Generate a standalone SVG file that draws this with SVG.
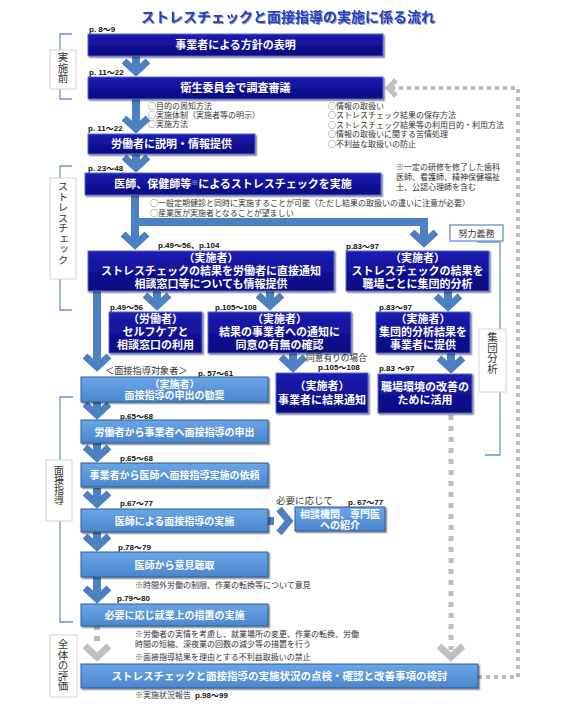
<svg xmlns="http://www.w3.org/2000/svg" width="567" height="712" viewBox="0 0 567 712">
<style>
.dk{fill:url(#gDk);stroke:#5566d8;stroke-width:1;filter:url(#sh)}
.lt{fill:url(#gLt);stroke:#2c5a96;stroke-width:1;filter:url(#sh)}
.bt{font-family:"Noto Sans CJK JP",sans-serif;font-weight:bold;fill:#fff;text-anchor:middle;font-size:11px}
.ls{font-size:10px}
.pg{font-family:"Liberation Sans","Noto Sans CJK JP",sans-serif;font-weight:bold;font-size:8px;fill:#111}
.nt{font-family:"Noto Sans CJK JP",sans-serif;font-size:8px;fill:#333}
.lb{font-family:"Noto Sans CJK JP",sans-serif;fill:#333}
.vt{font-family:"Noto Sans CJK JP",sans-serif;font-size:10.5px;fill:#333;writing-mode:vertical-rl;text-orientation:upright}
.lbox{fill:#fff;stroke:#d4d4d4;stroke-width:1}
.brk{fill:none;stroke:#6f94c8;stroke-width:1.3}
.ar{fill:none;stroke:#4d80c0;stroke-width:8}
.ch{fill:none;stroke:#4d80c0;stroke-width:7}
.gd{fill:none;stroke:#bdbdbd;stroke-width:5;stroke-dasharray:5 6}
.gl{fill:none;stroke:#bdbdbd;stroke-width:4;stroke-dasharray:4 4}
.gc{fill:none;stroke:#c0c0c0;stroke-width:7}
</style>
<defs>
<linearGradient id="gDk" x1="0" y1="0" x2="0" y2="1">
<stop offset="0" stop-color="#1d1db2"/><stop offset="1" stop-color="#07077e"/>
</linearGradient>
<linearGradient id="gLt" x1="0" y1="0" x2="0" y2="1">
<stop offset="0" stop-color="#6aa6e6"/><stop offset="1" stop-color="#4b86cd"/>
</linearGradient>
<filter id="sh" x="-5%" y="-20%" width="110%" height="150%">
<feDropShadow dx="1.5" dy="1.5" stdDeviation="0.7" flood-color="#000" flood-opacity="0.45"/>
</filter>
<filter id="tsh" x="-5%" y="-30%" width="110%" height="160%">
<feDropShadow dx="1" dy="1" stdDeviation="0.6" flood-color="#555" flood-opacity="0.6"/>
</filter>
</defs>
<rect width="567" height="712" fill="#fff"/>

<text x="288" y="22" text-anchor="middle" font-family="Noto Sans CJK JP, sans-serif" font-weight="bold" font-size="14" fill="#1f3fcc" filter="url(#tsh)">ストレスチェックと面接指導の実施に係る流れ</text>

<!-- section labels / brackets -->
<g id="sec-pre">
<path class="brk" d="M72,34 H60 V99 H72"/>
<rect class="lbox" x="50" y="50" width="26" height="39"/>
<text class="vt" x="63" y="52">実施前</text>
</g>
<g id="sec-sc">
<path class="brk" d="M72,166 H60 V310 H72"/>
<rect class="lbox" x="50" y="178" width="26" height="101"/>
<text class="vt" x="63" y="181">ストレスチェック</text>
</g>
<g id="sec-mensetsu">
<path class="brk" d="M73,397 H60 V622 H73"/>
<rect class="lbox" x="46" y="460" width="26" height="61"/>
<text class="vt" x="59" y="465" style="font-size:10px">面接指導</text>
</g>
<g id="sec-eval">
<rect class="lbox" x="50" y="635" width="27" height="62"/>
<text class="vt" x="63" y="639">全体の評価</text>
</g>
<g id="sec-shudan">
<path class="brk" d="M477,242 H500 V455 H485"/>
<rect x="450" y="225" width="53" height="16" fill="#fff" stroke="#7aa0d0" stroke-width="1.5"/>
<text class="lb" x="476.5" y="236.5" text-anchor="middle" font-size="9">努力義務</text>
<rect class="lbox" x="479" y="329" width="27" height="63"/>
<text class="vt" x="492.5" y="332">集団分析</text>
</g>

<!-- connectors -->
<g id="connectors">
<path class="gl" d="M478,677 H518 V88 H392"/>
<path fill="none" stroke="#c0c0c0" stroke-width="5" d="M396,80 L388,88 L396,96"/>
<path class="gd" d="M451,415 V650"/>
<path class="gc" d="M439,646 L451,657 L463,646"/>
<path class="gd" d="M97,625 V642" style="stroke-width:6"/>
<path class="gc" d="M85,646 L97,657 L109,646"/>

<path class="ar" d="M136,56 V71"/><path class="ch" d="M124,61 L136,72 L148,61"/>
<path class="ar" d="M136,99 V128"/><path class="ch" d="M124,118 L136,129 L148,118"/>
<path class="ar" d="M136,154 V167"/><path class="ch" d="M124,157 L136,168 L148,157"/>
<path class="ar" d="M135,195 V244"/><path class="ch" d="M123,234 L135,245 L147,234"/>
<path class="ar" d="M135,222 H424 V242" style="stroke-linejoin:miter"/><path class="ch" d="M412,232 L424,243 L436,232"/>
<path class="ar" d="M157,291 V305"/><path class="ch" d="M145,295 L157,306 L169,295"/>
<path class="ar" d="M270,291 V305"/><path class="ch" d="M258,295 L270,306 L282,295"/>
<path class="ar" d="M448,291 V306"/><path class="ch" d="M436,296 L448,307 L460,296"/>
<path class="ar" d="M97,291 V366"/><path class="ch" d="M85,356 L97,367 L109,356"/>
<path class="ar" d="M293,353 V367"/><path class="ch" d="M281,357 L293,368 L305,357"/>
<path class="ar" d="M451,353 V368"/><path class="ch" d="M439,358 L451,369 L463,358"/>
<path class="ar" d="M97,402 V414"/><path class="ch" d="M85,404 L97,415 L109,404"/>
<path class="ar" d="M97,443 V457"/><path class="ch" d="M85,447 L97,458 L109,447"/>
<path class="ar" d="M97,488 V503"/><path class="ch" d="M85,493 L97,504 L109,493"/>
<path class="ar" d="M97,532 V546"/><path class="ch" d="M85,536 L97,547 L109,536"/>
<path class="ar" d="M97,577 V598"/><path class="ch" d="M85,588 L97,599 L109,588"/>
<path class="ar" d="M268,521 H274"/><path class="ch" d="M279,509 L289,521 L279,533"/>
</g>

<!-- nodes -->
<g id="n1">
<text class="pg" x="89" y="32">p. 8～9</text>
<rect class="dk" x="88" y="34" width="295" height="22"/>
<text class="bt" x="235.5" y="49">事業者による方針の表明</text>
</g>
<g id="n2">
<text class="pg" x="89" y="75">p. 11～22</text>
<rect class="dk" x="88" y="77" width="295" height="22"/>
<text class="bt" x="235.5" y="92">衛生委員会で調査審議</text>
<text class="nt" x="148" y="109">○目的の周知方法</text>
<text class="nt" x="148" y="118">○実施体制（実施者等の明示）</text>
<text class="nt" x="148" y="127">○実施方法</text>
<text class="nt" x="328" y="109">○情報の取扱い</text>
<text class="nt" x="328" y="118">○ストレスチェック結果の保存方法</text>
<text class="nt" x="328" y="127.5">○ストレスチェック結果等の利用目的・利用方法</text>
<text class="nt" x="328" y="137">○情報の取扱いに関する苦情処理</text>
<text class="nt" x="328" y="146.5">○不利益な取扱いの防止</text>
</g>
<g id="n3">
<text class="pg" x="88" y="131">p. 11～22</text>
<rect class="dk" x="88" y="134" width="167" height="20"/>
<text class="bt" x="171.5" y="148">労働者に説明・情報提供</text>
</g>
<g id="n4">
<text class="pg" x="88" y="171">p. 23～48</text>
<rect class="dk" x="85" y="173" width="296" height="22"/>
<text class="bt" x="233" y="188">医師、保健師等<tspan font-size="7" dy="-3" fill="#c8c8e8">※</tspan><tspan dy="3">によるストレスチェックを実施</tspan></text>
<text class="nt" x="396" y="170">※一定の研修を修了した歯科</text>
<text class="nt" x="396" y="180">医師、看護師、精神保健福祉</text>
<text class="nt" x="396" y="190">士、公認心理師を含む</text>
<text class="nt" x="150" y="206">○一般定期健診と同時に実施することが可能（ただし結果の取扱いの違いに注意が必要）</text>
<text class="nt" x="150" y="216">○産業医が実施者となることが望ましい</text>
</g>
<g id="n5">
<text class="pg" x="158" y="248">p.49～56、p.104</text>
<rect class="dk" x="88" y="251" width="246" height="40"/>
<text class="bt" x="211" y="262">（実施者）</text>
<text class="bt" x="211" y="275">ストレスチェックの結果を労働者に直接通知</text>
<text class="bt" x="211" y="288">相談窓口等についても情報提供</text>
</g>
<g id="n6">
<text class="pg" x="346" y="249">p.83～97</text>
<rect class="dk" x="346" y="251" width="143" height="40"/>
<text class="bt" x="417.5" y="262">（実施者）</text>
<text class="bt" x="417.5" y="275">ストレスチェックの結果を</text>
<text class="bt" x="417.5" y="288">職場ごとに集団的分析</text>
</g>
<g id="n7">
<text class="pg" x="110" y="310">p.49～56</text>
<rect class="dk" x="109" y="312" width="93" height="41"/>
<text class="bt" x="155.5" y="323">（労働者）</text>
<text class="bt" x="155.5" y="336">セルフケアと</text>
<text class="bt" x="155.5" y="349">相談窓口の利用</text>
</g>
<g id="n8">
<text class="pg" x="215" y="310">p.105～108</text>
<rect class="dk" x="208" y="312" width="143" height="41"/>
<text class="bt" x="279.5" y="323">（実施者）</text>
<text class="bt" x="279.5" y="336">結果の事業者への通知に</text>
<text class="bt" x="279.5" y="349">同意の有無の確認</text>
<text class="lb" x="306" y="361" font-size="8.7">同意有りの場合</text>
<text class="pg" x="318" y="370">p.105～108</text>
</g>
<g id="n9">
<text class="pg" x="379" y="310">p.83～97</text>
<rect class="dk" x="376" y="312" width="94" height="41"/>
<text class="bt" x="423" y="323">（実施者）</text>
<text class="bt" x="423" y="336">集団的分析結果を</text>
<text class="bt" x="423" y="349">事業者に提供</text>
</g>
<g id="n10">
<rect class="dk" x="276" y="373" width="92" height="40"/>
<text class="bt" x="322" y="390">（実施者）</text>
<text class="bt" x="322" y="404">事業者に結果通知</text>
</g>
<g id="n11">
<text class="pg" x="379" y="371">p.83 ～97</text>
<rect class="dk" x="378" y="374" width="94" height="39"/>
<text class="bt" x="425" y="391">職場環境の改善の</text>
<text class="bt" x="425" y="404">ために活用</text>
</g>
<g id="m1">
<text class="lb" x="105" y="374" font-size="9.2">＜面接指導対象者＞</text>
<text class="pg" x="198" y="376">p. 57～61</text>
<rect class="lt" x="81" y="377" width="187" height="25"/>
<text class="bt ls" x="174.5" y="387.5">（実施者）</text>
<text class="bt ls" x="174.5" y="399">面接指導の申出の勧奨</text>
</g>
<g id="m2">
<text class="pg" x="120" y="419">p.65～68</text>
<rect class="lt" x="81" y="420" width="187" height="23"/>
<text class="bt ls" x="174.5" y="435.5">労働者から事業者へ面接指導の申出</text>
</g>
<g id="m3">
<text class="pg" x="120" y="461">p.65～68</text>
<rect class="lt" x="81" y="463" width="187" height="24"/>
<text class="bt ls" x="174.5" y="479">事業者から医師へ面接指導実施の依頼</text>
</g>
<g id="m4">
<text class="pg" x="120" y="506">p.67～77</text>
<rect class="lt" x="81" y="509" width="187" height="23"/>
<text class="bt ls" x="174.5" y="524.5">医師による面接指導の実施</text>
</g>
<g id="m5">
<text class="lb" x="276" y="504" font-size="9.5">必要に応じて</text>
<text class="pg" x="348" y="505">p. 67～77</text>
<rect class="lt" x="295" y="507" width="90" height="24"/>
<text class="bt ls" x="340" y="518">相談機関、専門医</text>
<text class="bt ls" x="340" y="529">への紹介</text>
</g>
<g id="m6">
<text class="pg" x="118" y="550">p.78～79</text>
<rect class="lt" x="81" y="552" width="187" height="25"/>
<text class="bt ls" x="174.5" y="568.5">医師から意見聴取</text>
<text class="nt" x="135" y="588">※時間外労働の制限、作業の転換等について意見</text>
</g>
<g id="m7">
<text class="pg" x="117" y="601">p.79～80</text>
<rect class="lt" x="81" y="604" width="187" height="22"/>
<text class="bt ls" x="174.5" y="619">必要に応じ就業上の措置の実施</text>
<text class="nt" x="135" y="637">※労働者の実情を考慮し、就業場所の変更、作業の転換、労働</text>
<text class="nt" x="135" y="646.5">時間の短縮、深夜業の回数の減少等の措置を行う</text>
<text class="nt" x="135" y="660">※面接指導結果を理由とする不利益取扱いの禁止</text>
</g>
<g id="m8">
<rect class="lt" x="81" y="664" width="397" height="24"/>
<text class="bt" x="279.5" y="680" style="font-size:10.5px">ストレスチェックと面接指導の実施状況の点検・確認と改善事項の検討</text>
<text class="nt" x="135" y="698">※実施状況報告</text>
<text class="pg" x="195" y="698">p.98～99</text>
</g>
</svg>
